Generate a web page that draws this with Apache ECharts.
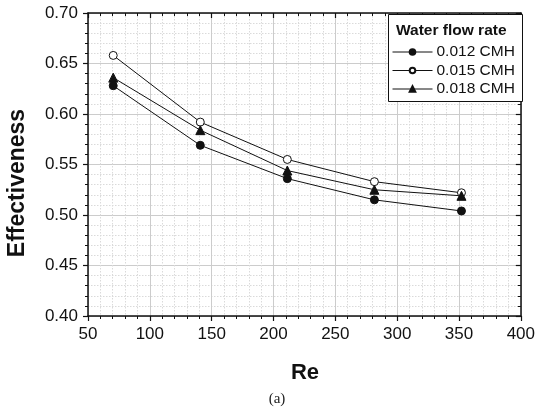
<!DOCTYPE html>
<html>
<head>
<meta charset="utf-8">
<script src="https://cdn.jsdelivr.net/npm/echarts@6/dist/echarts.min.js"></script>
<style>html,body{margin:0;padding:0;background:#fff}#c{width:538px;height:407px}</style>
</head>
<body>
<div id="c"></div>
<script>
const reValues = [70.4, 140.8, 211.2, 281.6, 352];
const seriesNames = ['0.012 CMH', '0.015 CMH', '0.018 CMH'];
const eff012 = [0.628, 0.569, 0.536, 0.515, 0.504];
const eff015 = [0.658, 0.592, 0.555, 0.533, 0.522];
const eff018 = [0.636, 0.584, 0.544, 0.525, 0.519];
const xTicks = [50, 100, 150, 200, 250, 300, 350, 400];
const yTicks = [0.40, 0.45, 0.50, 0.55, 0.60, 0.65, 0.70];

const FONT = '"Liberation Sans", Arial, sans-serif';
const chart = echarts.init(document.getElementById('c'));
const pair = v => reValues.map((x, i) => [x, v[i]]);
const baseSeries = (name, data, symbol, size, fill) => ({
  name, type: 'line', data: pair(data), symbol, symbolSize: size,
  lineStyle: { color: '#111', width: 1 },
  itemStyle: { color: fill, borderColor: '#111', borderWidth: 1 },
  emphasis: { disabled: true }, animation: false, z: 5
});
const common = {
  axisLine: { show: true, onZero: false, lineStyle: { color: '#111', width: 1.5 } },
  minorTick: { show: true, splitNumber: 5, length: 3, lineStyle: { color: '#111', width: 1 } },
};
chart.setOption({
  animation: false,
  grid: { left: 88, right: 16, top: 13, bottom: 91 },
  legend: {
    data: seriesNames, orient: 'vertical', left: 392, top: 44, z: 30, padding: 0,
    itemWidth: 40, itemHeight: 7, itemGap: 2.5,
    lineStyle: { width: 1, color: '#111' },
    textStyle: { fontFamily: FONT, fontSize: 15.5, color: '#111', padding: [0, 0, 0, -1] },
    selectedMode: false
  },
  xAxis: [{
    type: 'value', min: xTicks[0], max: xTicks[xTicks.length - 1], interval: 50,
    ...common,
    axisTick: { show: true, length: 5, inside: false, lineStyle: { color: '#111', width: 1.2 } },
    axisLabel: { fontFamily: FONT, fontSize: 17, color: '#111', margin: 10 },
    splitLine: { show: true, lineStyle: { color: '#cccccc', width: 1 } },
    minorSplitLine: { show: true, lineStyle: { color: '#dadada', width: 1, type: [1.5, 1.5] } }
  }, {
    type: 'value', position: 'top', min: xTicks[0], max: xTicks[xTicks.length - 1], interval: 50,
    ...common,
    axisTick: { show: true, length: 5, inside: true, lineStyle: { color: '#111', width: 1.2 } },
    axisLabel: { show: false }, splitLine: { show: false }
  }],
  yAxis: [{
    type: 'value', min: yTicks[0], max: yTicks[yTicks.length - 1], interval: 0.05,
    ...common,
    axisTick: { show: true, length: 5, inside: false, lineStyle: { color: '#111', width: 1.2 } },
    axisLabel: { fontFamily: FONT, fontSize: 17, color: '#111', margin: 10, formatter: v => v.toFixed(2) },
    splitLine: { show: true, lineStyle: { color: '#cccccc', width: 1 } },
    minorSplitLine: { show: true, lineStyle: { color: '#dadada', width: 1, type: [1.5, 1.5] } }
  }, {
    type: 'value', position: 'right', min: yTicks[0], max: yTicks[yTicks.length - 1], interval: 0.05,
    ...common,
    axisTick: { show: true, length: 5, inside: true, lineStyle: { color: '#111', width: 1.2 } },
    axisLabel: { show: false }, splitLine: { show: false }
  }],
  series: [
    baseSeries(seriesNames[0], eff012, 'circle', 8, '#111'),
    baseSeries(seriesNames[1], eff015, 'circle', 8, '#fff'),
    baseSeries(seriesNames[2], eff018, 'triangle', 9, '#111')
  ],
  graphic: [
    { type: 'rect', shape: { x: 388.5, y: 14.5, width: 134, height: 87 },
      style: { fill: '#fff', stroke: '#111', lineWidth: 1 }, z: 10 },
    { type: 'text', x: 396, y: 31, z: 11,
      style: { text: 'Water flow rate', fontFamily: FONT, fontWeight: 'bold', fontSize: 15.5, fill: '#111', verticalAlign: 'middle' } },
    { type: 'text', x: 305, y: 373, z: 11,
      style: { text: 'Re', fontFamily: FONT, fontWeight: 'bold', fontSize: 22, fill: '#111', align: 'center', verticalAlign: 'middle' } },
    { type: 'text', x: 18, y: 183, rotation: Math.PI / 2, z: 11,
      style: { text: 'Effectiveness', fontFamily: FONT, fontWeight: 'bold', fontSize: 23, fill: '#111', align: 'center', verticalAlign: 'middle' } },
    { type: 'text', x: 277, y: 399, z: 11,
      style: { text: '(a)', fontFamily: '"Liberation Serif", "DejaVu Serif", serif', fontSize: 15, fill: '#222', align: 'center', verticalAlign: 'middle' } }
  ]
});
</script>
</body>
</html>
